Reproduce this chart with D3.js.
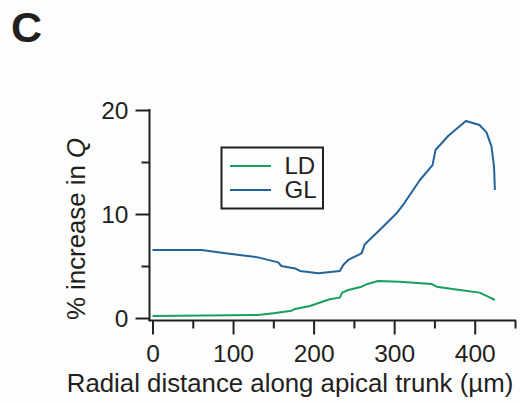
<!DOCTYPE html>
<html>
<head>
<meta charset="utf-8">
<script src="https://cdn.jsdelivr.net/npm/d3@7"></script>
<style>
  html, body { margin: 0; padding: 0; background: #fdfdfd; }
  svg { display: block; font-family: "Liberation Sans", Arial, Helvetica, sans-serif; }
  text { fill: #231f20; }
</style>
</head>
<body>
<svg id="chart" width="520" height="403"></svg>
<script>
// Radial distance (µm) and % increase in Q for each condition
const glDist  = [0, 61, 86, 108, 131, 156, 160, 177, 183, 206, 232.6, 236.8, 243, 259.5, 263.6, 282, 303, 311, 332, 347.6, 351.3, 367, 389, 406, 414.6, 420.8, 424, 425];
const glValue = [6.54, 6.54, 6.28, 6.06, 5.83, 5.35, 5.0, 4.77, 4.52, 4.3, 4.52, 5.1, 5.58, 6.22, 7.1, 8.46, 10.07, 10.87, 13.27, 14.7, 16.15, 17.5, 18.94, 18.56, 17.85, 16.5, 14.55, 12.3];

const ldDist  = [0, 131, 150, 172.7, 177, 195.4, 220, 232.6, 235.5, 243, 259.5, 265.7, 280, 307, 346.4, 352.6, 381.5, 406, 416.6, 425];
const ldValue = [0.19, 0.29, 0.45, 0.70, 0.87, 1.15, 1.8, 1.96, 2.44, 2.69, 3.01, 3.24, 3.56, 3.49, 3.27, 3.01, 2.69, 2.44, 2.05, 1.73];

const seriesNames  = ["LD", "GL"];
const seriesColors = ["#17a05d", "#22639a"];

const xMajor = [0, 100, 200, 300, 400];
const xMinor = [50, 150, 250, 350, 450];
const yMajor = [0, 10, 20];
const yMinor = [5, 15];

const svg = d3.select("#chart");
const ink = "#231f20";

const x = d3.scaleLinear().domain([0, 450]).range([152.5, 515]);
const y = d3.scaleLinear().domain([0, 20]).range([318, 110]);

// panel letter
svg.append("text")
  .attr("x", 11).attr("y", 42)
  .attr("font-size", 43).attr("font-weight", "bold")
  .text("C");

// y axis
const yAxisX = 149.5;
svg.append("line")
  .attr("x1", yAxisX).attr("x2", yAxisX)
  .attr("y1", y(20) - 1).attr("y2", 321)
  .attr("stroke", ink).attr("stroke-width", 2);

const yAx = svg.append("g").attr("transform", `translate(${yAxisX},0)`);
yAx.call(d3.axisLeft(y).tickValues(yMajor).tickSize(14).tickPadding(7).tickFormat(d3.format("d")));
yAx.select(".domain").remove();
yAx.selectAll(".tick line").attr("stroke", ink).attr("stroke-width", 2);
yAx.selectAll(".tick text").attr("font-size", 24.5).attr("fill", ink)
  .attr("font-family", "Liberation Sans, Arial, sans-serif").attr("dy", "0.36em");

const yAxMinor = svg.append("g").attr("transform", `translate(${yAxisX},0)`);
yAxMinor.call(d3.axisLeft(y).tickValues(yMinor).tickSize(8).tickFormat(""));
yAxMinor.select(".domain").remove();
yAxMinor.selectAll(".tick line").attr("stroke", ink).attr("stroke-width", 2);

// x axis
const xAxisY = 320.5;
svg.append("line")
  .attr("x1", yAxisX - 1).attr("x2", x(450) + 1)
  .attr("y1", xAxisY).attr("y2", xAxisY)
  .attr("stroke", ink).attr("stroke-width", 2);

const xAx = svg.append("g").attr("transform", `translate(0,${xAxisY})`);
xAx.call(d3.axisBottom(x).tickValues(xMajor).tickSize(14).tickPadding(10).tickFormat(d3.format("d")));
xAx.select(".domain").remove();
xAx.selectAll(".tick line").attr("stroke", ink).attr("stroke-width", 2);
xAx.selectAll(".tick text").attr("font-size", 24.5).attr("fill", ink)
  .attr("font-family", "Liberation Sans, Arial, sans-serif");

const xAxMinor = svg.append("g").attr("transform", `translate(0,${xAxisY})`);
xAxMinor.call(d3.axisBottom(x).tickValues(xMinor).tickSize(8).tickFormat(""));
xAxMinor.select(".domain").remove();
xAxMinor.selectAll(".tick line").attr("stroke", ink).attr("stroke-width", 2);

// axis titles
svg.append("text")
  .attr("x", 290).attr("y", 392)
  .attr("text-anchor", "middle").attr("font-size", 25.8)
  .text("Radial distance along apical trunk (µm)");

const yTitle = svg.append("text")
  .attr("transform", "translate(85,229) rotate(-90)")
  .attr("text-anchor", "middle").attr("font-size", 25.8);
yTitle.append("tspan").text("% increase in ");
yTitle.append("tspan").attr("font-style", "italic").text("Q");

// data lines
const line = d3.line().x(d => x(d[0])).y(d => y(d[1]));
const series = [
  { name: seriesNames[0], color: seriesColors[0], pts: d3.zip(ldDist, ldValue) },
  { name: seriesNames[1], color: seriesColors[1], pts: d3.zip(glDist, glValue) }
];
svg.selectAll("path.series")
  .data(series)
  .join("path")
  .attr("class", "series")
  .attr("fill", "none")
  .attr("stroke", d => d.color)
  .attr("stroke-width", 2)
  .attr("stroke-linejoin", "round")
  .attr("d", d => line(d.pts));

// legend
const lg = svg.append("g");
lg.append("rect")
  .attr("x", 221.5).attr("y", 147.5).attr("width", 101.5).attr("height", 61)
  .attr("fill", "none").attr("stroke", ink).attr("stroke-width", 2);
series.forEach((s, i) => {
  const ly = 166 + i * 24;
  lg.append("line")
    .attr("x1", 230).attr("x2", 271).attr("y1", ly).attr("y2", ly)
    .attr("stroke", s.color).attr("stroke-width", 2);
  lg.append("text")
    .attr("x", 284.5).attr("y", ly + 7.5)
    .attr("font-size", 24)
    .text(s.name);
});
</script>
</body>
</html>
